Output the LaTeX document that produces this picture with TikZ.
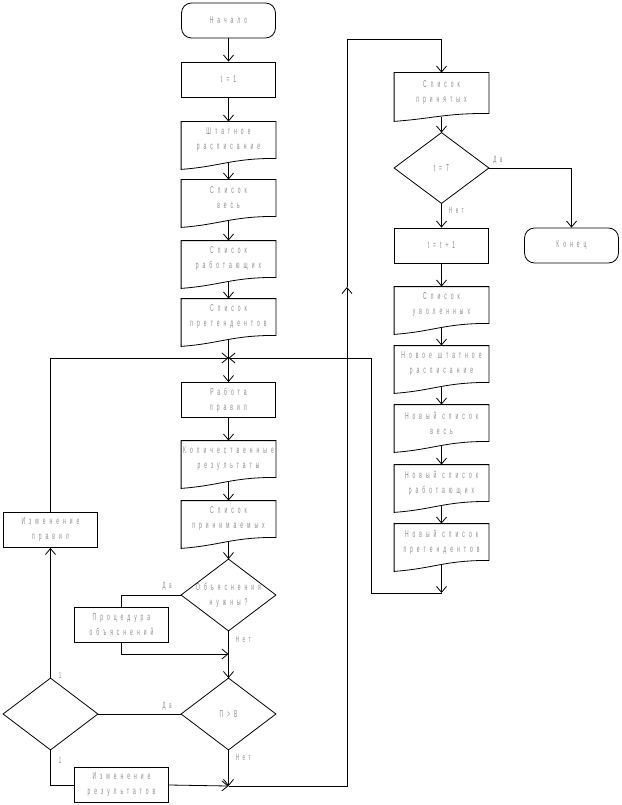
\documentclass[tikz,border=0pt]{standalone}
\usepackage{fontspec}
\usepackage{tikz}
\usetikzlibrary{arrows.meta,calc}
\newfontfamily\blockfont[FakeStretch=0.5,LetterSpace=40]{Liberation Sans}
\newcommand{\wsp}{\hspace{6pt}}

\begin{document}
\begin{tikzpicture}[x=1pt,y=-1pt,line width=0.8pt,
    >={Straight Barb[length=6pt,width=10pt]},
    box/.style={draw, rectangle, text width=92pt, minimum height=35pt, inner sep=1pt, align=center,
        font=\blockfont\fontsize{10}{15}\selectfont, text=black!45},
    dok/.style={box, draw=none, minimum height=36pt},
    term/.style={box, rounded corners=10pt},
    raute/.style={box, draw=none, minimum height=71pt},
    lbl/.style={font=\blockfont\fontsize{9}{10}\selectfont, text=black!45, inner sep=1pt}]
    \def\dokument#1{
    \draw (#1.north west) -- (#1.north east) -- (#1.south east) .. controls +(-45,0) and +(40,-3) .. ($(#1.south west)+(0,11)$) -- cycle;
    }
    \def\raute#1{
    \draw (#1.north) -- (#1.east) -- (#1.south) -- (#1.west) -- cycle;
    }
    \useasboundingbox (0,0) rectangle (621,805);

    % linke Spalte
    \node[term] (start) at (228.5,20.5) {Начало};
    \node[box] (t1) at (228.5,79.5) {t=1};
    \node[dok] (sht) at (228.5,140) {Штатное\\расписание};
    \node[dok] (ves) at (228.5,198) {Список\\весь};
    \node[dok] (rab) at (228.5,259) {Список\\работающих};
    \node[dok] (pre) at (228.5,317) {Список\\претендентов};
    \node[box] (rules) at (228.5,400) {Работа\\правил};
    \node[dok] (kol) at (228.5,459) {Количественные\\результаты};
    \node[dok] (prin) at (228.5,519) {Список\\принимаемых};
    \node[raute] (expl) at (228.5,595) {Объяснения\\нужны?};
    \node[box] (proc) at (121.5,624.5) {Процедура\\объяснений};
    \node[raute] (pv) at (228.5,714) {П>В};
    \node[raute] (sel) at (50.5,714) {};
    \node[box] (chgr) at (50.5,530) {Изменение\\правил};
    \node[box] (chres) at (121.5,785) {Изменение\\результатов};

    % rechte Spalte
    \node[dok, minimum height=40pt] (acc) at (441.5,93) {Список\\принятых};
    \node[raute, minimum height=70pt] (tT) at (441.5,168) {t=T};
    \node[term] (end) at (571.5,245.5) {Конец};
    \node[box] (tinc) at (441.5,245.5) {t=t+1};
    \node[dok] (fired) at (441.5,305) {Список\\уволенных};
    \node[dok] (nsht) at (441.5,364) {Новое\wsp штатное\\расписание};
    \node[dok] (nves) at (441.5,423) {Новый\wsp список\\весь};
    \node[dok] (nrab) at (441.5,483) {Новый\wsp список\\работающих};
    \node[dok] (npre) at (441.5,542) {Новый\wsp список\\претендентов};

    \foreach \n in {sht,ves,rab,pre,kol,prin,fired,nsht,nves,nrab,npre}
        \dokument{\n};
    \draw (acc.north west) -- (acc.north east) -- (acc.south east) .. controls +(-45,0) and +(40,-3) .. ($(acc.south west)+(0,8)$) -- cycle;
    \foreach \n in {expl,pv,sel,tT}
        \raute{\n};

    \coordinate (J) at (228.5,358);
    \coordinate (J1) at (228.5,654);
    \coordinate (J2) at (228.5,786);
    \coordinate (R) at (371,358);
    \coordinate (B) at (441.5,593);
    \coordinate (P) at (347,287);
    \coordinate (T) at (347,39);

    \foreach \a/\b in {start/t1,t1/sht,rules/kol,expl/pv,tT/tinc,tinc/fired}
        \draw[->] (\a) -- (\b);
    \foreach \a/\b in {sht/ves,ves/rab,rab/pre,pre/rules,kol/prin,prin/expl,acc/tT,fired/nsht,nsht/nves,nves/nrab,nrab/npre,npre/B}
        \draw[->,shorten <=4pt] (\a) -- (\b);

    \draw (expl.west) -| (proc.north);
    \draw[->] (proc.south) |- (J1);
    \draw (sel.east) -- (pv.west);
    \draw[->] (sel.north) -- (chgr.south);
    \draw[->] (chgr.north) |- (J);
    \draw (sel.south) |- (chres.west);
    \draw[->] (chres.east) -- (J2);
    \draw[->] (pv.south) -- (J2);
    \draw[->] (J2) -| (P);
    \draw[->] (P) -- (T) -| (acc.north);
    \draw[->] (tT.east) -| (end.north);
    \draw[->] (B) -| (R) -- (J);

    \node[lbl, anchor=south east] (da1) at ($(expl.west)+(-8,-3)$) {Да};
    \node[lbl, anchor=north west] (net1) at ($(expl.south)+(6,4)$) {Нет};
    \node[lbl, anchor=south east] (da2) at ($(pv.west)+(-8,-2)$) {Да};
    \node[lbl, anchor=north west] (net2) at ($(pv.south)+(6,3)$) {Нет};
    \node[lbl, anchor=west] (eins1) at ($(sel.north)+(7,-3)$) {1};
    \node[lbl, anchor=west] (eins2) at ($(sel.south)+(7,10)$) {1};
    \node[lbl, anchor=south west] (da3) at ($(tT.east)+(3,-2)$) {Да};
    \node[lbl, anchor=north west] (net3) at ($(tT.south)+(6,3)$) {Нет};
\end{tikzpicture}
\end{document}
